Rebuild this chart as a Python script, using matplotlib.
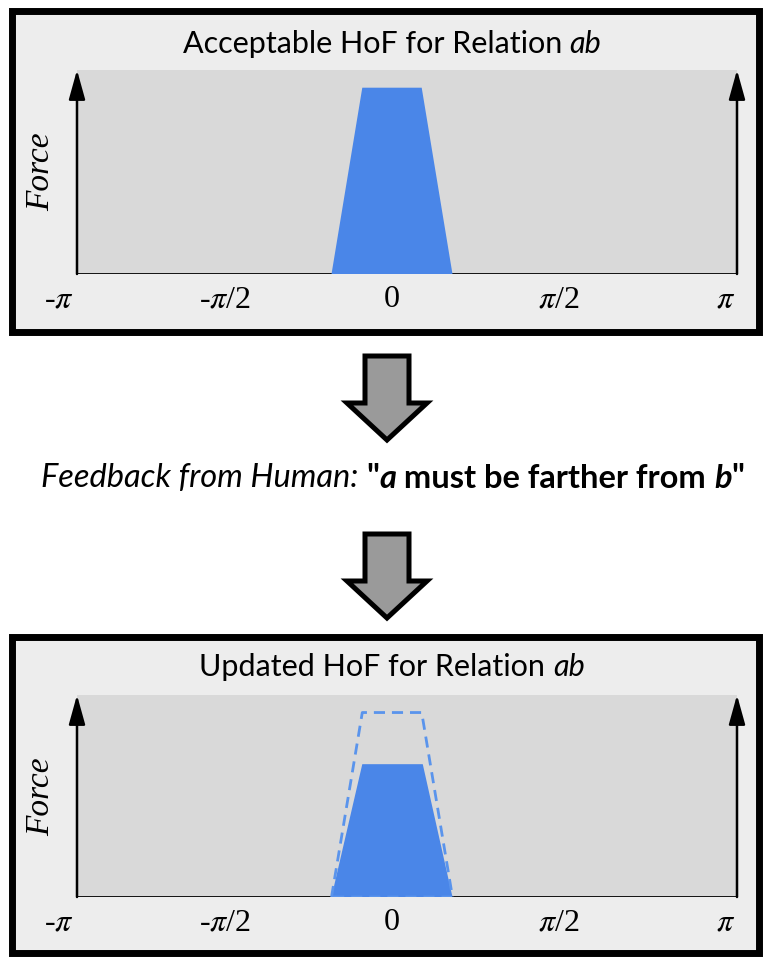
import numpy as np
import matplotlib
matplotlib.use('Agg')
import matplotlib.pyplot as plt
from matplotlib.patches import Rectangle, FancyArrow

plt.rcParams['mathtext.fontset'] = 'stix'

# angle axis (radians) and the HoF shapes
angle_ticks = [-np.pi, -np.pi / 2, 0, np.pi / 2, np.pi]
angle_labels = [r'-$\pi$', r'-$\pi$/2', '0', r'$\pi$/2', r'$\pi$']
hof_angle = [-0.57, -0.28, 0.28, 0.57]
hof_force = [0.0, 1.0, 1.0, 0.0]
updated_angle = [-0.57, -0.28, 0.29, 0.57]
updated_force = [0.0, 0.72, 0.72, 0.0]

title_top = [('Acceptable HoF for Relation ', 'normal', 'normal'), ('ab', 'italic', 'normal')]
title_bottom = [('Updated HoF for Relation ', 'normal', 'normal'), ('ab', 'italic', 'normal')]
feedback = [('Feedback from Human: ', 'italic', 'normal'),
            ('"', 'normal', 'bold'),
            ('a', 'italic', 'bold'),
            (' must be farther from ', 'normal', 'bold'),
            ('b', 'italic', 'bold'),
            ('"', 'normal', 'bold')]

BLUE = '#4a86e8'
DASH_BLUE = '#5a94ec'
PANEL_BG = '#ededed'
PLOT_BG = '#d9d9d9'
SANS = 'Lato'
SERIF = 'Liberation Serif'

W, H = 767, 957
fig = plt.figure(figsize=(W / 100, H / 100), dpi=100)

# canvas axes in pixel units for boxes, arrows and free text
cv = fig.add_axes([0, 0, 1, 1])
cv.set_xlim(0, W)
cv.set_ylim(H, 0)
cv.axis('off')


def rich_text(pieces, cx, cy, size):
    objs = [cv.text(0, cy, s, fontsize=size, family=SANS, style=st, weight=wt,
                    va='center', ha='left') for s, st, wt in pieces]
    r = fig.canvas.get_renderer()
    widths = [o.get_window_extent(renderer=r).width for o in objs]
    x = cx - sum(widths) / 2
    for o, w in zip(objs, widths):
        o.set_x(x)
        x += w


# px -> radian mapping: 0 at x=392, 106.1 px per radian
PX0, PXR = 392, 106.1


def panel(top_px, base_px, title, title_y, force_y):
    ax = fig.add_axes([47 / W, 1 - base_px / H, 700 / W, (base_px - top_px) / H])
    ax.set_xlim((47 - PX0) / PXR, (747 - PX0) / PXR)
    ax.set_ylim(0, 1.095)
    ax.patch.set_alpha(0)
    for s in ax.spines.values():
        s.set_visible(False)
    ax.set_yticks([])
    ax.set_xticks(angle_ticks)
    ax.set_xticklabels(angle_labels, family=SERIF, fontsize=23)
    ax.tick_params(axis='x', length=0, pad=8)

    x_left = (77 - PX0) / PXR
    x_right = (737 - PX0) / PXR
    ax.axvspan(x_left, x_right, color=PLOT_BG, zorder=0, lw=0)
    ax.plot([x_left, x_right], [0, 0], color='black', lw=2, zorder=1, solid_capstyle='butt')
    for xa in (x_left, x_right):
        ax.annotate('', xy=(xa, 1.095), xytext=(xa, 0),
                    arrowprops=dict(arrowstyle='-|>,head_length=1.8,head_width=0.5',
                                    mutation_scale=10, lw=1.8, color='black',
                                    shrinkA=0, shrinkB=0), zorder=4)
    rich_text(title, 392, title_y, 22)
    cv.text(41, force_y, 'Force', rotation=90, family=SERIF, style='italic',
            fontsize=24, ha='center', va='center')
    return ax


# panel boxes
cv.add_patch(Rectangle((11.5, 11), 747, 320.5, fc=PANEL_BG, ec='black', lw=5))
cv.add_patch(Rectangle((11.5, 637), 747, 316, fc=PANEL_BG, ec='black', lw=5))

ax1 = panel(70, 274, title_top, 44, 172)
ax1.fill(hof_angle, hof_force, color=BLUE, lw=0, zorder=2)

ax2 = panel(695, 897, title_bottom, 667, 797)
ax2.fill(updated_angle, updated_force, color=BLUE, lw=0, zorder=2)
ax2.plot(hof_angle + hof_angle[:1], hof_force + hof_force[:1], color=DASH_BLUE,
         lw=2, ls=(0, (4, 2.5)), zorder=3)

# flow arrows and feedback text
for y0 in (356, 534):
    cv.add_patch(FancyArrow(387, y0, 0, 84, width=44, head_width=80, head_length=37,
                            length_includes_head=True, fc='#9a9a9a', ec='black', lw=3.6))
rich_text(feedback, 393, 478, 23.5)

fig.savefig('out.png', dpi=100)
